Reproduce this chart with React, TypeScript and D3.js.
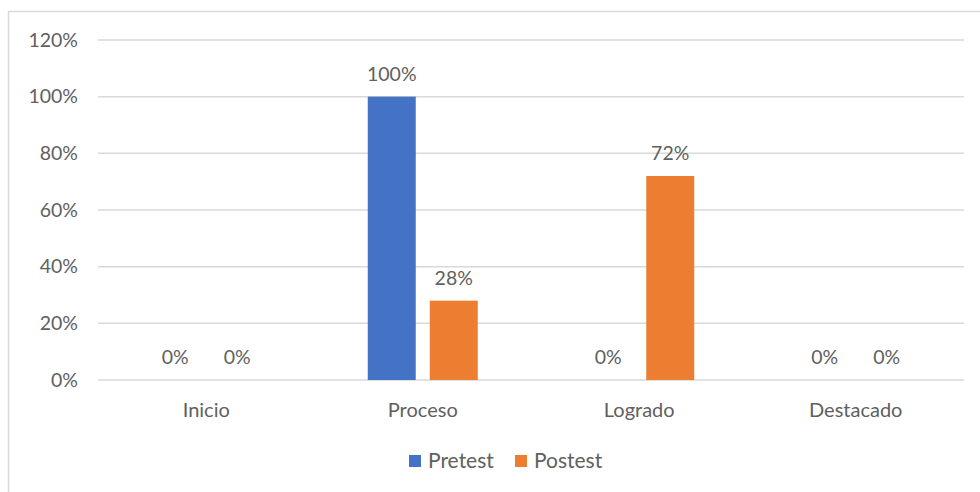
import React from "react";
import * as d3 from "d3";

const categories = ["Inicio", "Proceso", "Logrado", "Destacado"];
const seriesNames = ["Pretest", "Postest"];
const pretest = [0, 100, 0, 0];
const postest = [0, 28, 72, 0];
const yTicks = [0, 20, 40, 60, 80, 100, 120];
const colors = ["#4472C4", "#ED7D31"];

const W = 980;
const H = 492;
const FONT = "Lato, 'Open Sans', sans-serif";
const TEXT = "#606060";

export default function App() {
  const x = d3.scaleBand<string>().domain(categories).range([98, 964]);
  const y = d3.scaleLinear().domain([0, 120]).range([380, 40]);
  const inner = d3
    .scaleBand<string>()
    .domain(seriesNames)
    .range([-55, 55])
    .paddingInner(0.226);
  const values = [pretest, postest];

  return (
    <svg
      width={W}
      height={H}
      style={{ position: "absolute", left: 0, top: 0, background: "#fff" }}
      fontFamily={FONT}
    >
      <rect x={8.5} y={11.5} width={1000} height={520} fill="#fff" stroke="#d9d9d9" strokeWidth={1.5} />
      {yTicks.map((t) => (
        <g key={t}>
          <line x1={98} x2={964} y1={y(t)} y2={y(t)} stroke="#d9d9d9" strokeWidth={1.5} />
          <text x={78} y={y(t)} dy="0.35em" textAnchor="end" fontSize={19.5} fill={TEXT}>
            {t}%
          </text>
        </g>
      ))}
      {categories.map((c, i) => {
        const cx = (x(c) as number) + x.bandwidth() / 2;
        return (
          <g key={c}>
            {seriesNames.map((s, k) => {
              const v = values[k][i];
              const bx = cx + (inner(s) as number);
              return (
                <g key={s}>
                  {v > 0 && (
                    <rect x={bx} y={y(v)} width={inner.bandwidth()} height={y(0) - y(v)} fill={colors[k]} />
                  )}
                  <text
                    x={bx + inner.bandwidth() / 2}
                    y={y(v) - 16}
                    textAnchor="middle"
                    fontSize={19.5}
                    fill={TEXT}
                  >
                    {v}%
                  </text>
                </g>
              );
            })}
            <text x={cx} y={410} dy="0.35em" textAnchor="middle" fontSize={20} fill={TEXT}>
              {c}
            </text>
          </g>
        );
      })}
      {seriesNames.map((s, k) => {
        const lx = [409, 515][k];
        return (
          <g key={s}>
            <rect x={lx} y={455} width={12} height={12} fill={colors[k]} />
            <text x={lx + 19} y={461} dy="0.35em" fontSize={21} fill={TEXT}>
              {s}
            </text>
          </g>
        );
      })}
    </svg>
  );
}
